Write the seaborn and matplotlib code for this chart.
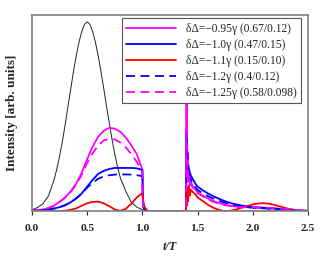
import numpy as np
import pandas as pd
import matplotlib
matplotlib.use("Agg")
import matplotlib.pyplot as plt
import seaborn as sns

# input pulse (black), on its own finer grid
t_pulse = [0.0, 0.05, 0.1, 0.15, 0.2, 0.225, 0.25, 0.275, 0.3, 0.325, 0.35, 0.375,
           0.4, 0.425, 0.45, 0.475, 0.5, 0.525, 0.55, 0.575, 0.6, 0.625, 0.65,
           0.675, 0.7, 0.725, 0.75, 0.775, 0.8, 0.85, 0.9, 0.95, 1.0, 1.1, 2.5]
pulse = [0.007, 0.018, 0.038, 0.078, 0.16, 0.215, 0.28, 0.355, 0.44, 0.53, 0.62, 0.71,
         0.79, 0.86, 0.915, 0.952, 0.965, 0.952, 0.915, 0.86, 0.79, 0.71, 0.625,
         0.535, 0.45, 0.365, 0.29, 0.225, 0.17, 0.1, 0.045, 0.02, 0.007, 0.0, 0.0]

# time axis (t/T) for the output curves
t = [0.0, 0.05, 0.1, 0.15, 0.2, 0.25, 0.3, 0.35, 0.4, 0.45, 0.5,
     0.55, 0.6, 0.65, 0.7, 0.75, 0.8, 0.85, 0.9, 0.95, 1.0,
     1.005, 1.02, 1.05, 1.1, 1.2, 1.3, 1.39,
     1.395, 1.40, 1.405, 1.41, 1.415, 1.42, 1.43, 1.44, 1.46, 1.48,
     1.5, 1.55, 1.6, 1.65, 1.7, 1.75, 1.8, 1.85, 1.9, 1.95,
     2.0, 2.05, 2.1, 2.15, 2.2, 2.25, 2.3, 2.35, 2.4, 2.45, 2.5]

m095 = [0.003, 0.005, 0.008, 0.015, 0.028, 0.047, 0.07, 0.1, 0.14, 0.195, 0.265,
        0.33, 0.38, 0.41, 0.425, 0.42, 0.405, 0.375, 0.335, 0.29, 0.21,
        0.03, 0.005, 0.0, 0.0, 0.0, 0.0, 0.0,
        0.0, 0.58, 0.2, 0.3, 0.15, 0.2, 0.14, 0.15, 0.12, 0.11,
        0.096, 0.078, 0.062, 0.05, 0.04, 0.033, 0.027, 0.023, 0.021, 0.02,
        0.019, 0.018, 0.017, 0.016, 0.014, 0.012, 0.01, 0.008, 0.005, 0.003, 0.001]

b100 = [0.002, 0.003, 0.005, 0.008, 0.013, 0.02, 0.03, 0.045, 0.065, 0.09, 0.125,
        0.16, 0.19, 0.205, 0.215, 0.22, 0.22, 0.22, 0.22, 0.218, 0.21,
        0.03, 0.005, 0.0, 0.0, 0.0, 0.0, 0.0,
        0.0, 0.4, 0.32, 0.27, 0.24, 0.22, 0.195, 0.18, 0.16, 0.14,
        0.125, 0.105, 0.088, 0.074, 0.061, 0.05, 0.041, 0.034, 0.028, 0.024,
        0.02, 0.018, 0.016, 0.014, 0.012, 0.01, 0.008, 0.006, 0.004, 0.002, 0.001]

r110 = [0.0, 0.0, 0.0, 0.0, 0.0, 0.0, 0.002, 0.006, 0.014, 0.027, 0.04,
        0.047, 0.048, 0.04, 0.025, 0.008, 0.001, 0.012, 0.038, 0.07, 0.092,
        0.06, 0.02, 0.0, 0.0, 0.0, 0.0, 0.0,
        0.0, 0.09, 0.03, 0.12, 0.05, 0.13, 0.08, 0.11, 0.095, 0.085,
        0.07, 0.05, 0.03, 0.015, 0.005, 0.0, 0.002, 0.008, 0.017, 0.026,
        0.034, 0.039, 0.04, 0.037, 0.031, 0.023, 0.015, 0.008, 0.004, 0.002, 0.001]

b120 = [0.002, 0.003, 0.005, 0.008, 0.013, 0.02, 0.03, 0.045, 0.064, 0.088, 0.12,
        0.145, 0.165, 0.177, 0.183, 0.186, 0.187, 0.187, 0.186, 0.183, 0.178,
        0.03, 0.005, 0.0, 0.0, 0.0, 0.0, 0.0,
        0.0, 0.33, 0.27, 0.23, 0.2, 0.185, 0.17, 0.16, 0.14, 0.122,
        0.108, 0.09, 0.074, 0.062, 0.051, 0.042, 0.035, 0.029, 0.024, 0.02,
        0.017, 0.015, 0.014, 0.012, 0.01, 0.009, 0.007, 0.005, 0.003, 0.002, 0.001]

m125 = [0.003, 0.005, 0.008, 0.015, 0.028, 0.046, 0.068, 0.097, 0.135, 0.185, 0.245,
        0.295, 0.335, 0.36, 0.37, 0.365, 0.35, 0.325, 0.29, 0.25, 0.2,
        0.03, 0.005, 0.0, 0.0, 0.0, 0.0, 0.0,
        0.0, 0.55, 0.18, 0.26, 0.14, 0.18, 0.13, 0.14, 0.115, 0.105,
        0.092, 0.074, 0.058, 0.046, 0.037, 0.03, 0.025, 0.022, 0.02, 0.019,
        0.019, 0.019, 0.018, 0.017, 0.015, 0.013, 0.011, 0.008, 0.005, 0.003, 0.001]

labels = ["δΔ=−0.95γ (0.67/0.12)",
          "δΔ=−1.0γ (0.47/0.15)",
          "δΔ=−1.1γ (0.15/0.10)",
          "δΔ=−1.2γ (0.4/0.12)",
          "δΔ=−1.25γ (0.58/0.098)"]

sns.set_style("white")
plt.rcParams["font.family"] = ["Liberation Serif", "DejaVu Serif"]

fig = plt.figure(figsize=(3.2, 2.59), dpi=100)
ax = fig.add_axes([0.1, 0.185, 0.8625, 0.757])

sns.lineplot(x=t_pulse, y=pulse, color="#222222", lw=0.7, ax=ax)
sns.lineplot(x=t, y=m095, color="#ff00ff", lw=1.3, ax=ax, label=labels[0])
sns.lineplot(x=t, y=b100, color="#0000ff", lw=1.3, ax=ax, label=labels[1])
sns.lineplot(x=t, y=r110, color="#ff0000", lw=1.3, ax=ax, label=labels[2])
sns.lineplot(x=t, y=b120, color="#0000ff", lw=1.3, ax=ax, label=labels[3])
sns.lineplot(x=t, y=m125, color="#ff00ff", lw=1.3, ax=ax, label=labels[4])
ax.lines[4].set_dashes([5, 3])
ax.lines[5].set_dashes([5, 3])

ax.set_xlim(0, 2.5)
ax.set_ylim(0, 1.0)
ax.set_xticks([0.0, 0.5, 1.0, 1.5, 2.0, 2.5])
ax.set_xticklabels(["0.0", "0.5", "1.0", "1.5", "2.0", "2.5"], fontweight="bold", fontsize=8.2)
ax.set_yticks([])
ax.tick_params(axis="x", direction="out", length=3, width=0.8, pad=6, bottom=True)
ax.set_xlabel("t/T", fontweight="bold", fontstyle="italic", fontsize=8.8, labelpad=6)
ax.set_ylabel("Intensity [arb. units]", fontweight="bold", fontsize=9.5, labelpad=10)
for s in ax.spines.values():
    s.set_color("#808080")
    s.set_linewidth(1.2)

leg = ax.legend(loc="upper right", bbox_to_anchor=(0.975, 0.985), borderaxespad=0,
                fontsize=8.3, handlelength=4.3, handletextpad=0.85, labelspacing=0.35,
                borderpad=0.4, frameon=True, fancybox=False, edgecolor="#555555",
                framealpha=1)
leg.get_frame().set_linewidth(0.8)
leg.set_zorder(10)

fig.savefig("out.png", dpi=100)
